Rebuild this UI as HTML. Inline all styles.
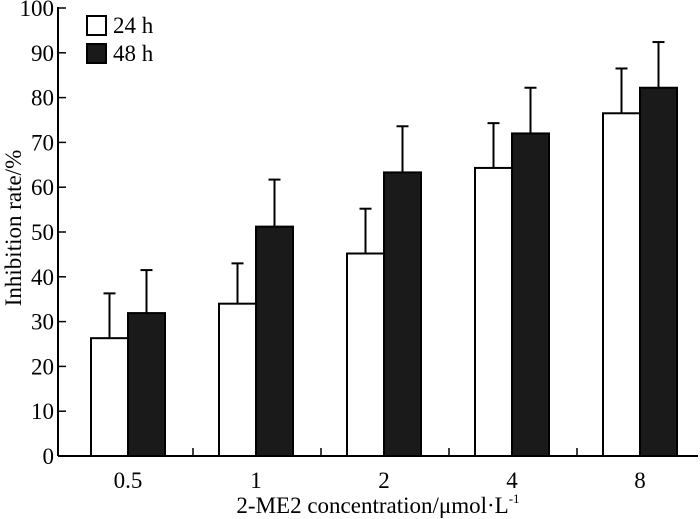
<!DOCTYPE html>
<html><head><meta charset="utf-8"><style>
html,body{margin:0;padding:0;background:#fff;}
svg{display:block;font-family:"Liberation Serif",serif;}
</style></head><body>
<svg id="chart" width="700" height="519"></svg>
<script>
const categories=["0.5","1","2","4","8"];
const values24=[26.3,34,45.2,64.3,76.5];
const err24=[10,9,10,10,10];
const values48=[31.9,51.2,63.3,72,82.2];
const err48=[9.6,10.5,10.3,10.2,10.2];
const yTicks=[0,10,20,30,40,50,60,70,80,90,100];
const NS="http://www.w3.org/2000/svg";
const svg=document.getElementById('chart');
const X0=58,X1=698,Y0=456,Y1=8;
const y=v=>Y0-(v/100)*(Y0-Y1);
const gw=128,bw=37;
const xc=i=>X0+gw*(i+0.5)+6;
function mk(t,a,p){const e=document.createElementNS(NS,t);for(const k in a)e.setAttribute(k,a[k]);(p||svg).appendChild(e);return e;}
let ax=mk('line',{x1:X0,y1:Y1-1,x2:X0,y2:Y0,stroke:'#000','stroke-width':2});


ax=mk('line',{x1:X0,y1:Y0,x2:X1,y2:Y0,stroke:'#000','stroke-width':2});


yTicks.forEach(t=>{
  const l=mk('line',{x1:X0,y1:y(t),x2:X0+8,y2:y(t),stroke:'#000','stroke-width':1.5});
  
  
  const tx=mk('text',{x:X0-4,y:y(t)+8,'text-anchor':'end','font-size':23});
  tx.textContent=t;
  
  
});
categories.forEach((c,i)=>{
  if(i>0){const l=mk('line',{x1:X0+gw*i+7,y1:Y0,x2:X0+gw*i+7,y2:Y0-8,stroke:'#000','stroke-width':1.5});
  
  }
  const cx=xc(i);
  [[values24[i],err24[i],'#fff',cx-bw,'bar-24h'],[values48[i],err48[i],'#1a1a1a',cx,'bar-48h']].forEach(([v,e,f,bx,nm])=>{
    const ex=bx+bw/2;
    const el=mk('line',{x1:ex,y1:y(v),x2:ex,y2:y(v+e),stroke:'#000','stroke-width':2});
    
    
    const cp=mk('line',{x1:ex-6,y1:y(v+e),x2:ex+6,y2:y(v+e),stroke:'#000','stroke-width':2});
    
    
    const r=mk('rect',{x:bx,y:y(v),width:bw,height:Y0-y(v),fill:f,stroke:'#000','stroke-width':2});
    
    
  });
  const tx=mk('text',{x:cx,y:488,'text-anchor':'middle','font-size':23});
  tx.textContent=c;
  
  
});
</script>
<svg style="position:absolute;left:0;top:0" width="700" height="519" font-family="Liberation Serif, serif">
<g>
<rect x="87" y="16" width="19" height="19" fill="#fff" stroke="#000" stroke-width="2"/>
<text x="113" y="33" font-size="23">24 h</text>
<rect x="87" y="44" width="19" height="19" fill="#1a1a1a" stroke="#000" stroke-width="2"/>
<text x="113" y="61" font-size="23">48 h</text>
</g>
<text x="378" y="513" text-anchor="middle" font-size="23">2-ME2 concentration/μmol·L<tspan dy="-10" font-size="13">-1</tspan></text>
<text transform="translate(21,228) rotate(-90)" text-anchor="middle" font-size="23">Inhibition rate/%</text>
</svg>
</body></html>
